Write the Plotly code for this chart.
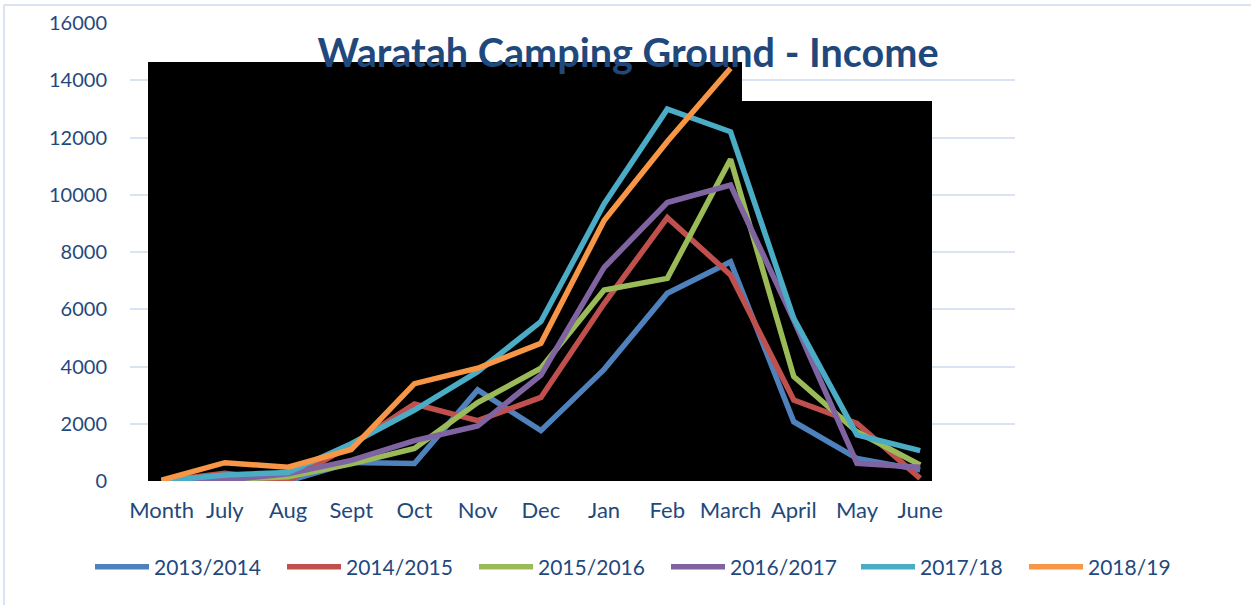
import plotly.graph_objects as go

months = ["Month", "July", "Aug", "Sept", "Oct", "Nov", "Dec", "Jan", "Feb", "March", "April", "May", "June"]
series_names = ["2013/2014", "2014/2015", "2015/2016", "2016/2017", "2017/18", "2018/19"]

s2013 = [0, 60, 0, 650, 610, 3180, 1760, 3900, 6560, 7660, 2070, 790, 390]
s2014 = [0, 270, 0, 1250, 2690, 2110, 2920, 6200, 9200, 7200, 2830, 2010, 90]
s2015 = [0, 50, 150, 600, 1140, 2740, 3940, 6670, 7080, 11240, 3650, 1720, 560]
s2016 = [0, 30, 250, 720, 1410, 1920, 3700, 7460, 9730, 10340, 5620, 620, 480]
s2017 = [0, 210, 300, 1300, 2480, 3820, 5570, 9680, 12990, 12200, 5680, 1610, 1060]
s2018 = [30, 640, 480, 1100, 3400, 3940, 4810, 9100, 11860, 14420]

colors = ["#4F81BD", "#C0504D", "#9BBB59", "#8064A2", "#4BACC6", "#F79646"]
all_series = [s2013, s2014, s2015, s2016, s2017, s2018]
legend_groups = ["legend", "legend", "legend", "legend", "legend2", "legend3"]

txt = "#1F497D"
grid = "#D9E3F1"

fig = go.Figure()
for name, vals, col, lg in zip(series_names, all_series, colors, legend_groups):
    fig.add_trace(go.Scatter(
        x=months[:len(vals)], y=vals, name=name, mode="lines",
        line=dict(color=col, width=5.5, shape="linear"), legend=lg,
    ))

# plot area in px: x 130..1015, y 23..481  (14 category slots of 63.21 px)
SLOT = 885 / 14.0

def cx(p):
    return (p - 130) / SLOT - 0.5

def vy(p):
    return (481 - p) / 458.0 * 16000

def px_x(p):
    return (p - 130) / 885.0

def px_y(p):
    return (481 - p) / 458.0

shapes = [
    dict(type="rect", xref="x", yref="y", x0=cx(148), x1=cx(742), y0=vy(483), y1=vy(62),
         fillcolor="black", line=dict(width=0), layer="between"),
    dict(type="rect", xref="x", yref="y", x0=cx(742), x1=cx(932), y0=vy(483), y1=vy(101),
         fillcolor="black", line=dict(width=0), layer="between"),
    dict(type="line", xref="paper", yref="paper", x0=px_x(4), x1=px_x(1260), y0=px_y(5), y1=px_y(5),
         line=dict(color=grid, width=2), layer="below"),
    dict(type="line", xref="paper", yref="paper", x0=px_x(4), x1=px_x(4), y0=px_y(5), y1=px_y(610),
         line=dict(color=grid, width=2), layer="below"),
]

def legend_at(px_left):
    return dict(orientation="h", x=px_left / 1251.0, xref="container", xanchor="left",
                y=1 - 567 / 605, yref="container", yanchor="middle",
                font=dict(size=21, color=txt), itemwidth=54,
                entrywidth=123, entrywidthmode="pixels", bgcolor="rgba(0,0,0,0)")

fig.update_layout(
    width=1251, height=605,
    margin=dict(l=130, r=236, t=23, b=124, autoexpand=False),
    paper_bgcolor="white", plot_bgcolor="white",
    font=dict(family="Lato", size=20, color=txt),
    title=dict(text="<b>Waratah Camping Ground - Income</b>", x=628 / 1251, xref="container", xanchor="center",
               y=1 - 53 / 605, yref="container", yanchor="middle",
               font=dict(family="Lato", size=39.6, color=txt)),
    xaxis=dict(categoryorder="array", categoryarray=months, range=[-0.5, 13.5],
               showgrid=False, zeroline=False, showline=False, ticks="",
               tickfont=dict(size=22, color=txt), ticklabelstandoff=14),
    yaxis=dict(range=[0, 16000], dtick=2000, tickformat="d", showgrid=True, gridcolor=grid, gridwidth=2,
               zeroline=False, showline=False, ticks="",
               tickfont=dict(size=20, color=txt), ticklabelstandoff=22),
    legend=legend_at(90),
    legend2=legend_at(856),
    legend3=legend_at(1024),
    shapes=shapes,
    showlegend=True,
)

fig.write_html("out.html", config={"displayModeBar": False},
               post_script="document.body.style.margin='0';document.body.style.overflow='hidden';")
